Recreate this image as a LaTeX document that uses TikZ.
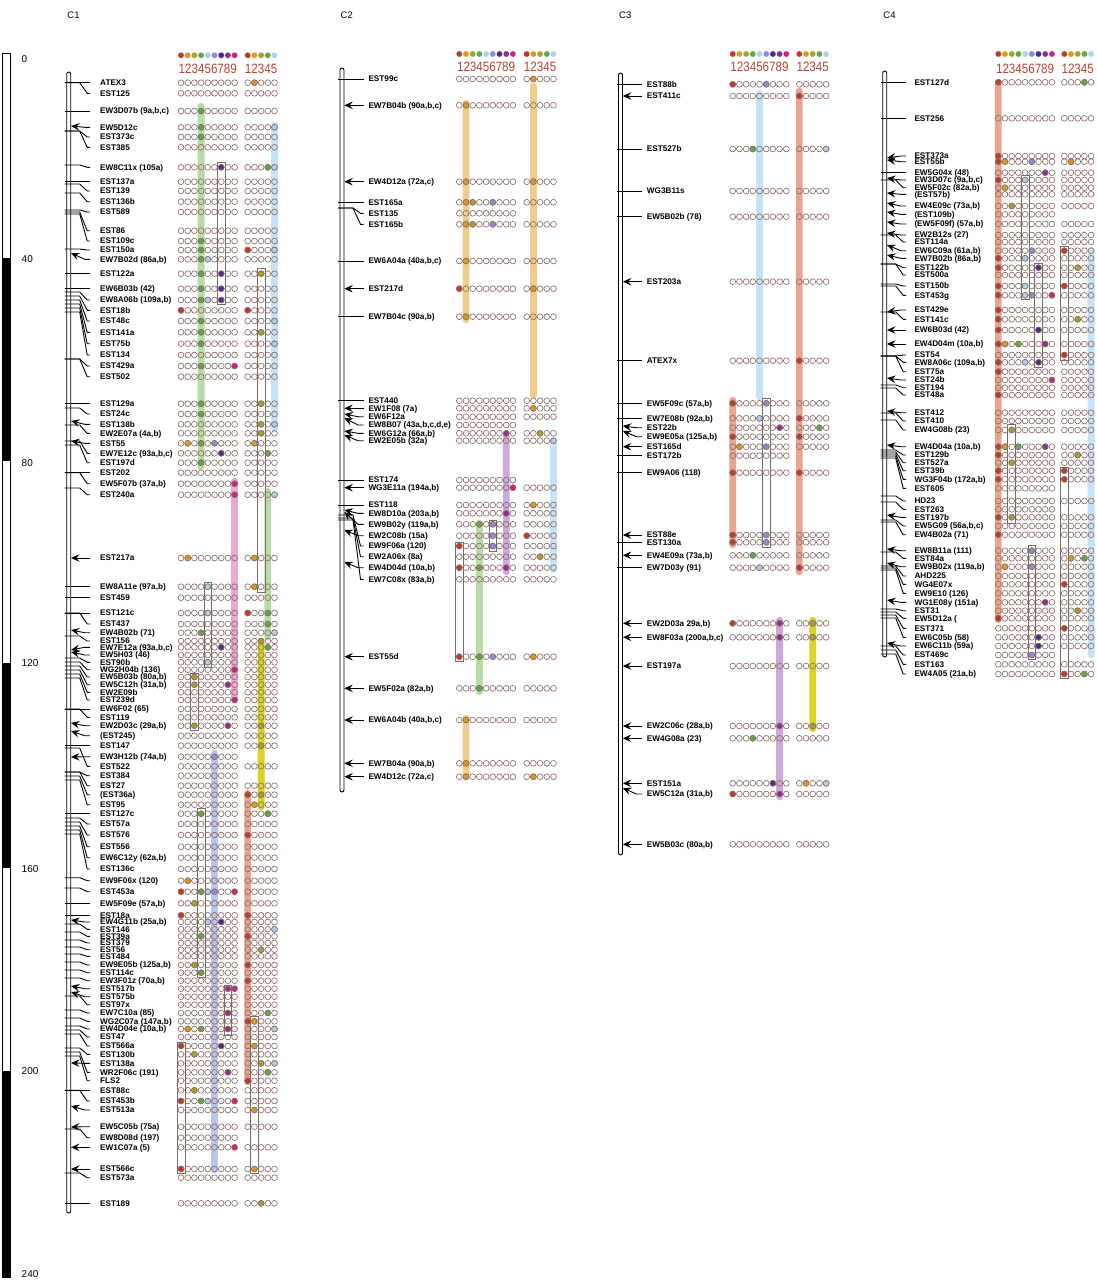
\documentclass[tikz,border=0pt]{standalone}
\usepackage{fontspec}
\setmainfont{Liberation Sans}
\newfontfamily\digfont{Liberation Sans}[FakeStretch=0.86]
\usetikzlibrary{arrows.meta}
\definecolor{ga1}{HTML}{C0392B}
\definecolor{ga2}{HTML}{D89B1E}
\definecolor{ga3}{HTML}{A6A02E}
\definecolor{ga4}{HTML}{5BAA46}
\definecolor{ga5}{HTML}{A8D2F0}
\definecolor{ga6}{HTML}{8C8CDA}
\definecolor{ga7}{HTML}{4B2C8C}
\definecolor{ga8}{HTML}{8E2E8E}
\definecolor{ga9}{HTML}{CC2280}
\colorlet{gb1}{ga1}\colorlet{gb2}{ga2}\colorlet{gb3}{ga3}\colorlet{gb4}{ga4}\colorlet{gb5}{ga5}
\definecolor{dotline}{HTML}{8C6E68}
\definecolor{digcol}{HTML}{B8452F}
\definecolor{bgreen}{HTML}{B7DCA8}
\definecolor{bblue}{HTML}{C6E2F6}
\definecolor{bsalmon}{HTML}{E8A690}
\definecolor{btan}{HTML}{EDCD8C}
\definecolor{bpink}{HTML}{E8AAD4}
\definecolor{blilac}{HTML}{CDAAD9}
\definecolor{blav}{HTML}{BCC5EC}
\definecolor{byellow}{HTML}{D8D424}
\definecolor{boxcol}{HTML}{7A6A66}
\tikzset{
  lab/.style={anchor=west,inner sep=0pt,text height=5.9pt,text depth=0pt,font=\bfseries\fontsize{8.2}{8}\selectfont},
  conn/.style={line width=0.9pt,black},
  arr/.style={-{Stealth[length=8.5pt,width=7.5pt,inset=3.2pt]}},
  edot/.style={draw=dotline,line width=0.65pt},
  boxs/.style={draw=boxcol,line width=0.65pt},
  chr/.style={draw=black,line width=0.9pt,fill=white,rounded corners=2pt},
  dig/.style={inner sep=0pt,text=digcol,font=\digfont\fontsize{13.5}{14}\selectfont},
  scl/.style={anchor=west,inner sep=0pt,font=\fontsize{10}{10}\selectfont},
  ttl/.style={anchor=west,inner sep=0pt,font=\fontsize{9.5}{10}\selectfont}
}
\newcommand\setchrom[4]{\gdef\cx{#1}\gdef\lx{#2}\gdef\gx{#3}\gdef\hx{#4}}
\newcounter{mk}
\newcommand\mrk[6]{%
  \stepcounter{mk}%
  \node[lab] (m\themk) at (\lx,#3) {#4};%
  \if#1L%
    \ifdim #2pt=#3pt
      \draw[conn] (\cx-4,#2) -- (\cx+21.5,#3);%
    \else
      \draw[conn] (\cx-4,#2) -- (\cx+11,#2) -- (\cx+18.5,#3) -- (\cx+21.5,#3);%
    \fi
  \else
    \ifdim #2pt=#3pt
      \draw[conn,arr] (\cx+21.5,#3) -- (\cx+2.3,#2);%
    \else
      \draw[conn,arr] (\cx+21.5,#3) -- (\cx+16,#3) -- (\cx+2.3,#2);%
    \fi
  \fi
  \foreach \i in {1,...,9}{\draw[edot] ({\gx+(\i-1)*6.7},#3) circle (2.9);}%
  \foreach \fc in {#5}{\ifnum\fc>0 \draw[edot,fill=ga\fc] ({\gx+(\fc-1)*6.7},#3) circle (2.9);\fi}%
  \def\tmpa{#6}\def\tmpn{n}%
  \ifx\tmpa\tmpn\else
    \foreach \i in {1,...,5}{\draw[edot] ({\hx+(\i-1)*6.7},#3) circle (2.9);}%
    \foreach \fc in {#6}{\ifnum\fc>0 \draw[edot,fill=gb\fc] ({\hx+(\fc-1)*6.7},#3) circle (2.9);\fi}%
  \fi}
\newcommand\cbar[5]{%
  \ifnum#1=1 \xdef\bx{\gx}\else\xdef\bx{\hx}\fi
  \fill[#5,rounded corners=3pt] ({\bx+(#2-1)*6.7-3.4},#3) rectangle ({\bx+(#2-1)*6.7+3.4},#4);}
\newcommand\cbox[4]{%
  \ifnum#1=1 \xdef\bx{\gx}\else\xdef\bx{\hx}\fi
  \draw[boxs] ({\bx+(#2-1)*6.7-3.9},#3) rectangle ({\bx+(#2-1)*6.7+3.9},#4);}
\newcommand\header[3]{%
  \foreach \i in {1,...,9}{\fill[ga\i] ({\gx+(\i-1)*6.7},#2) circle (2.9);}
  \foreach \i in {1,...,5}{\fill[gb\i] ({\hx+(\i-1)*6.7},#2) circle (2.9);}
  \node[dig] (#1a) at ({\gx+4*6.7},#3) {123456789};
  \node[dig] (#1b) at ({\hx+2*6.7},#3) {12345};}
\newcommand\chrom[3]{\draw[chr] (\cx-2,#2) rectangle (\cx+2,#3);\node[ttl] (#1) at (\cx-1.5,15) {#1};}
\begin{document}
\begin{tikzpicture}[x=1pt,y=-1pt]
\useasboundingbox (0,0) rectangle (1097,1280);
\fill[white] (0,0) rectangle (1097,1280);
% scale bar
\draw[line width=0.8pt] (2,53) rectangle (10,1277);
\fill (2,258) rectangle (10,461);
\fill (2,663) rectangle (10,868);
\fill (2,1071) rectangle (10,1277);
\node[scl] (s0) at (21.5,59) {0};
\node[scl] (s40) at (21.5,259) {40};
\node[scl] (s80) at (21.5,463) {80};
\node[scl] (s120) at (21.5,663) {120};
\node[scl] (s160) at (21.5,869) {160};
\node[scl] (s200) at (21.5,1071) {200};
\node[scl] (s240) at (21.5,1274) {240};
%%%%%%%%%%%%%%%% C1
\setchrom{68.7}{100}{181}{247.7}
\cbar{1}{4}{103}{470}{bgreen}
\cbar{2}{5}{122}{432}{bblue}
\cbar{2}{4}{488}{640}{bgreen}
\cbar{1}{9}{478}{702}{bpink}
\cbar{2}{3}{640}{810}{byellow}
\cbar{1}{6}{750}{1173}{blav}
\cbar{2}{1}{790}{1085}{bsalmon}
\chrom{C1}{72}{1213}
\header{hA}{55.3}{69.3}
\mrk{L}{82.7}{82.7}{ATEX3}{0}{2}
\mrk{L}{82.7}{93.3}{EST125}{0}{0}
\mrk{L}{111}{111}{EW3D07b (9a,b,c)}{4}{0}
\mrk{A}{126}{127.3}{EW5D12c}{4}{5}
\mrk{L}{131}{137}{EST373c}{4}{0}
\mrk{L}{131}{147.3}{EST385}{0}{0}
\mrk{L}{165}{167.3}{EW8C11x (105a)}{7}{4,5}
\mrk{L}{181.7}{181.7}{EST137a}{0}{0}
\mrk{L}{184}{191}{EST139}{0}{0}
\mrk{L}{193}{201.7}{EST136b}{0}{0}
\mrk{L}{210}{212}{EST589}{0}{0}
\mrk{L}{212}{230.7}{EST86}{0}{0}
\mrk{L}{214}{241}{EST109c}{4}{0}
\mrk{L}{249}{250}{EST150a}{4}{1,5}
\mrk{A}{253}{259.3}{EW7B02d (86a,b)}{4,5}{0}
\mrk{L}{273.7}{273.7}{EST122a}{4,7}{3}
\mrk{L}{288.7}{288.7}{EW6B03b (42)}{4,7}{0}
\mrk{L}{292}{300}{EW8A06b (109a,b)}{4,5,7}{0}
\mrk{L}{296}{310.3}{EST18b}{1}{1}
\mrk{L}{300}{321}{EST48c}{4}{5}
\mrk{L}{304}{332.3}{EST141a}{4}{3}
\mrk{L}{308}{343.7}{EST75b}{4}{5}
\mrk{L}{312}{355}{EST134}{0}{0}
\mrk{L}{359}{366}{EST429a}{4,9}{0}
\mrk{L}{359}{376.7}{EST502}{0}{0}
\mrk{L}{403.7}{403.7}{EST129a}{4}{3}
\mrk{L}{408}{414}{EST24c}{4}{0}
\mrk{A}{421}{424.3}{EST138b}{0}{3,5}
\mrk{L}{425}{433.3}{EW2E07a (4a,b)}{0}{3}
\mrk{A}{441}{443.3}{EST55}{2,4,6}{2}
\mrk{L}{441}{453.3}{EW7E12c (93a,b,c)}{7}{4}
\mrk{L}{445}{462.7}{EST197d}{4}{0}
\mrk{L}{472.7}{472.7}{EST202}{0}{0}
\mrk{L}{472.7}{483.7}{EW5F07b (37a,b)}{9}{0}
\mrk{L}{488}{494.7}{EST240a}{9}{5}
\mrk{A}{558}{558}{EST217a}{2}{2}
\mrk{L}{586.7}{586.7}{EW8A11e (97a,b)}{5}{2}
\mrk{L}{597.7}{597.7}{EST459}{0}{0}
\mrk{L}{613}{613}{EST121c}{5}{1,4}
\mrk{L}{613}{624}{EST437}{0}{4}
\mrk{A}{630}{632.7}{EW4B02b (71)}{4}{5}
\mrk{L}{636}{641}{EST156}{0}{3}
\mrk{A}{650}{647.3}{EW7E12a (93a,b,c)}{7}{4}
\mrk{A}{652}{655}{EW5H03 (46)}{0}{0}
\mrk{L}{658}{662.3}{EST90b}{5}{0}
\mrk{L}{662}{669.7}{WG2H04b (136)}{9}{0}
\mrk{L}{666}{677}{EW5B03b (80a,b)}{3}{0}
\mrk{L}{670}{684.7}{EW5C12h (31a,b)}{3,8}{0}
\mrk{L}{674}{692.3}{EW2E09b}{0}{0}
\mrk{L}{678}{700}{EST239d}{9}{0}
\mrk{L}{709}{709}{EW6F02 (65)}{0}{0}
\mrk{L}{709}{717.3}{EST119}{0}{0}
\mrk{A}{723}{725.7}{EW2D03c (29a,b)}{3,8}{3}
\mrk{A}{731}{735.7}{(EST245)}{0}{0}
\mrk{L}{745.7}{745.7}{EST147}{0}{3}
\mrk{A}{757}{756.7}{EW3H12b (74a,b)}{6}{n}
\mrk{L}{748}{766.3}{EST522}{0}{0}
\mrk{L}{772}{775.7}{EST384}{0}{n}
\mrk{L}{772}{785.7}{EST27}{0}{0}
\mrk{L}{776}{794.7}{(EST36a)}{0}{1,3}
\mrk{L}{780}{804.7}{EST95}{0}{2}
\mrk{L}{813.7}{813.7}{EST127c}{4}{4}
\mrk{L}{818}{824}{EST57a}{0}{0}
\mrk{L}{822}{835}{EST576}{0}{1}
\mrk{L}{826}{846.7}{EST556}{0}{0}
\mrk{L}{830}{857.7}{EW6C12y (62a,b)}{0}{0}
\mrk{L}{834}{869}{EST136c}{0}{0}
\mrk{L}{877.7}{880.7}{EW9F06x (120)}{2}{0}
\mrk{L}{888}{891.7}{EST453a}{1,4,5,6,9}{0}
\mrk{L}{903.3}{903.3}{EW5F09e (57a,b)}{3}{0}
\mrk{L}{915.3}{915.3}{EST18a}{1}{1}
\mrk{A}{920}{922}{EW4G11b (25a,b)}{5,7}{0}
\mrk{L}{924}{929.3}{EST146}{0}{5}
\mrk{L}{932}{936.3}{EST39a}{4}{1}
\mrk{L}{940}{943}{EST379}{0}{0}
\mrk{L}{947}{949.7}{EST56}{0}{3}
\mrk{L}{954}{956.3}{EST484}{0}{0}
\mrk{L}{962}{965}{EW9E05b (125a,b)}{3}{1}
\mrk{L}{970}{972.7}{EST114c}{4}{0}
\mrk{L}{978}{980.7}{EW3F01z (70a,b)}{0}{1}
\mrk{A}{986}{988.7}{EST517b}{8,9}{0}
\mrk{A}{992}{996.7}{EST575b}{0}{0}
\mrk{L}{996}{1004.7}{EST97x}{0}{0}
\mrk{L}{1010}{1013}{EW7C10a (85)}{8}{4}
\mrk{L}{1018}{1021.3}{WG2C07a (147a,b)}{0}{1,2}
\mrk{L}{1026}{1029}{EW4D04e (10a,b)}{2,4,8}{5}
\mrk{L}{1030}{1037}{EST47}{0}{0}
\mrk{L}{1034}{1046}{EST566a}{1,7}{2}
\mrk{L}{1048}{1054.3}{EST130b}{3}{0}
\mrk{A}{1063}{1063.3}{EST138a}{0}{3,5}
\mrk{L}{1052}{1072.3}{WR2F06c (191)}{8}{4}
\mrk{L}{1056}{1080.7}{FLS2}{0}{1}
\mrk{L}{1090.3}{1090.3}{EST88c}{3}{0}
\mrk{L}{1090.3}{1101}{EST453b}{1,4,5,9}{0}
\mrk{A}{1106}{1110}{EST513a}{0}{2}
\mrk{A}{1127}{1126.7}{EW5C05b (75a)}{0}{0}
\mrk{L}{1129}{1137.7}{EW8D08d (197)}{0}{n}
\mrk{A}{1147.3}{1147.3}{EW1C07a (5)}{9}{0}
\mrk{A}{1169}{1169}{EST566c}{1}{2}
\mrk{L}{1173}{1177.7}{EST573a}{0}{0}
\mrk{L}{1203.3}{1203.3}{EST189}{0}{3}
\cbox{1}{7}{162}{304}
\cbox{2}{3}{268}{592}
\cbox{1}{5}{582}{667}
\cbox{1}{3}{673}{730}
\cbox{1}{4}{808}{977}
\cbox{1}{8}{985}{1035}
\cbox{2}{2}{1016}{1173}
\cbox{1}{1}{1042}{1173}
%%%%%%%%%%%%%%%% C2
\setchrom{342}{368.3}{459.3}{526.7}
\cbar{1}{2}{100}{323}{btan}
\cbar{2}{2}{83}{398}{btan}
\cbar{1}{8}{433}{575}{blilac}
\cbar{2}{5}{440}{573}{bblue}
\cbar{1}{4}{520}{695}{bgreen}
\cbar{1}{2}{715}{780}{btan}
\chrom{C2}{68}{792}
\header{hB}{54}{66.7}
\mrk{L}{79}{79}{EST99c}{0}{2}
\mrk{A}{105.3}{105.3}{EW7B04b (90a,b,c)}{2}{0}
\mrk{A}{181.7}{181.7}{EW4D12a (72a,c)}{2}{2}
\mrk{L}{202.3}{202.3}{EST165a}{2,3,6}{0}
\mrk{L}{208}{213.3}{EST135}{0}{n}
\mrk{L}{208}{224.3}{EST165b}{2,3,6}{0}
\mrk{L}{261}{261}{EW6A04a (40a,b,c)}{2}{0}
\mrk{A}{288.7}{288.7}{EST217d}{1}{2}
\mrk{L}{316.7}{316.7}{EW7B04c (90a,b)}{2}{0}
\mrk{L}{400.7}{400.7}{EST440}{0}{0}
\mrk{A}{408.3}{408.3}{EW1F08 (7a)}{0}{2}
\mrk{A}{414}{416.7}{EW6F12a}{0}{0}
\mrk{A}{418}{425}{EW8B07 (43a,b,c,d,e)}{0}{n}
\mrk{A}{431}{433.3}{EW6G12a (66a,b)}{8}{3}
\mrk{A}{435}{440.7}{EW2E05b (32a)}{0}{5}
\mrk{L}{480}{480}{EST174}{0}{n}
\mrk{A}{487.7}{487.7}{WG3E11a (194a,b)}{9}{0}
\mrk{L}{505}{505}{EST118}{0}{2}
\mrk{A}{510}{513.3}{EW8D10a (203a,b)}{8}{0}
\mrk{A}{512}{524.3}{EW9B02y (119a,b)}{4,6}{0}
\mrk{A}{530}{535.7}{EW2C08b (15a)}{6}{1}
\mrk{L}{515}{546}{EW9F06a (120)}{1,6}{0}
\mrk{L}{518}{556.7}{EW2A06x (8a)}{0}{3}
\mrk{A}{562}{567.7}{EW4D04d (10a,b)}{1,4,8}{0}
\mrk{L}{520}{579.3}{EW7C08x (83a,b)}{0}{0}
\mrk{A}{656.7}{656.7}{EST55d}{1,4,6}{2}
\mrk{A}{688.3}{688.3}{EW5F02a (82a,b)}{4}{0}
\mrk{A}{720}{720}{EW6A04b (40a,b,c)}{2}{0}
\mrk{A}{763.3}{763.3}{EW7B04a (90a,b)}{2}{0}
\mrk{A}{776.7}{776.7}{EW4D12c (72a,c)}{2}{2}
\cbox{1}{6}{520}{551}
\cbox{1}{1}{542}{661}
%%%%%%%%%%%%%%%% C3
\setchrom{620.5}{646.7}{732.7}{799.3}
\cbar{1}{5}{90}{400}{bblue}
\cbar{2}{1}{88}{575}{bsalmon}
\cbar{1}{1}{397}{548}{bsalmon}
\cbar{1}{8}{617}{800}{blilac}
\cbar{2}{3}{617}{732}{byellow}
\chrom{C3}{73}{855}
\header{hC}{54}{67.3}
\mrk{L}{84.3}{84.3}{EST88b}{1,6}{0}
\mrk{A}{96}{96}{EST411c}{0}{1}
\mrk{L}{149}{149}{EST527b}{4}{5}
\mrk{L}{191}{191}{WG3B11s}{0}{0}
\mrk{L}{216.7}{216.7}{EW5B02b (78)}{0}{0}
\mrk{A}{281.7}{281.7}{EST203a}{0}{0}
\mrk{L}{360.7}{360.7}{ATEX7x}{0}{1}
\mrk{L}{403.3}{403.3}{EW5F09c (57a,b)}{1,6}{0}
\mrk{L}{418.3}{418.3}{EW7E08b (92a,b)}{5}{1}
\mrk{A}{426}{427.7}{EST22b}{8}{4}
\mrk{A}{431}{436.7}{EW9E05a (125a,b)}{1}{1}
\mrk{A}{446.7}{446.7}{EST165d}{2,6}{0}
\mrk{L}{455.7}{455.7}{EST172b}{0}{n}
\mrk{L}{472.7}{472.7}{EW9A06 (118)}{1}{1}
\mrk{A}{535}{535}{EST88e}{1,6}{0}
\mrk{L}{542.3}{542.3}{EST130a}{1,6}{0}
\mrk{A}{555.3}{555.3}{EW4E09a (73a,b)}{4}{0}
\mrk{L}{567.7}{567.7}{EW7D03y (91)}{5}{1}
\mrk{A}{623.3}{623.3}{EW2D03a 29a,b)}{1,8}{3}
\mrk{A}{637.3}{637.3}{EW8F03a (200a,b,c)}{8}{3}
\mrk{A}{666}{666}{EST197a}{0}{0}
\mrk{A}{726}{726}{EW2C06c (28a,b)}{8}{3}
\mrk{A}{738.3}{738.3}{EW4G08a (23)}{4}{0}
\mrk{A}{783.3}{783.3}{EST151a}{7}{2,5}
\mrk{A}{788}{794}{EW5C12a (31a,b)}{1,8}{0}
\mrk{A}{844.3}{844.3}{EW5B03c (80a,b)}{0}{0}
\cbox{1}{6}{398}{547}
%%%%%%%%%%%%%%%% C4
\setchrom{884.7}{914.3}{998.3}{1064.3}
\cbar{1}{1}{80}{623}{bsalmon}
\cbar{2}{5}{247}{658}{bblue}
\chrom{C4}{71}{657}
\header{hD}{54}{69}
\mrk{L}{82.3}{82.3}{EST127d}{1}{4}
\mrk{L}{118.3}{118.3}{EST256}{0}{0}
\mrk{A}{158}{156}{EST373a}{1}{0}
\mrk{A}{160}{161.7}{EST55b}{1,2,6}{2}
\mrk{L}{172.7}{172.7}{EW5G04x (48)}{8}{0}
\mrk{A}{178}{180}{EW3D07c (9a,b,c)}{1,5}{0}
\mrk{L}{180}{187.7}{EW5F02c (82a,b)}{2}{0}
\mrk{A}{193}{194.3}{(EST57b)}{0}{0}
\mrk{A}{203}{206}{EW4E09c (73a,b)}{3}{0}
\mrk{A}{212}{214.3}{(EST109b)}{0}{n}
\mrk{A}{222}{224}{(EW5F09f) (57a,b)}{0}{0}
\mrk{A}{233}{235}{EW2B12s (27)}{0}{0}
\mrk{L}{235}{242}{EST114a}{0}{0}
\mrk{A}{245}{250.7}{EW6C09a (61a,b)}{6}{1}
\mrk{A}{255}{258.3}{EW7B02b (86a,b)}{1,5}{0}
\mrk{L}{264}{267.7}{EST122b}{1,7}{3}
\mrk{L}{264}{275}{EST500a}{0}{0}
\mrk{L}{284}{286}{EST150b}{1,5}{1}
\mrk{L}{286}{295.3}{EST453g}{1,5,6,9}{0}
\mrk{A}{312}{310}{EST429e}{1}{0}
\mrk{L}{312}{319.3}{EST141c}{1}{3}
\mrk{A}{330}{330}{EW6B03d (42)}{1,7}{0}
\mrk{A}{344}{344}{EW4D04m (10a,b)}{1,2,4,8}{0}
\mrk{L}{356}{355}{EST54}{0}{1}
\mrk{L}{356}{362.3}{EW8A06c (109a,b)}{1,5,7}{0}
\mrk{L}{356}{371.7}{EST75a}{1}{0}
\mrk{A}{378}{380}{EST24b}{9}{0}
\mrk{L}{385}{387.7}{EST194}{0}{0}
\mrk{L}{388}{395}{EST48a}{1}{0}
\mrk{A}{411}{412.7}{EST412}{0}{0}
\mrk{L}{413}{421}{EST410}{0}{0}
\mrk{L}{420}{430}{EW4G08b (23)}{3}{0}
\mrk{A}{445}{446.7}{EW4D04a (10a,b)}{1,2,4,8}{0}
\mrk{L}{450}{455}{EST129b}{1}{3}
\mrk{L}{452}{462.7}{EST527a}{3}{0}
\mrk{L}{454}{470.7}{EST39b}{1}{1}
\mrk{L}{456}{479.3}{WG3F04b (172a,b)}{1}{1}
\mrk{L}{458}{488.3}{EST605}{0}{n}
\mrk{L}{496}{501}{HD23}{0}{0}
\mrk{L}{502}{509.3}{EST263}{0}{n}
\mrk{A}{515}{517.3}{EST197b}{1,3}{0}
\mrk{L}{520}{526}{EW5G09 (56a,b,c)}{0}{0}
\mrk{L}{522}{534.7}{EW4B02a (71)}{1}{0}
\mrk{A}{549}{550.7}{EW8B11a (111)}{6}{0}
\mrk{L}{552}{558.3}{EST84a}{0}{2,4}
\mrk{A}{563}{566.7}{EW9B02x (119a,b)}{2,6}{0}
\mrk{L}{566}{576}{AHD225}{0}{0}
\mrk{L}{568}{584.3}{WG4E07x}{0}{1}
\mrk{L}{570}{593.3}{EW9E10 (126)}{0}{0}
\mrk{A}{600}{602.3}{WG1E08y (151a)}{8}{0}
\mrk{L}{609}{610.7}{EST31}{0}{3}
\mrk{L}{612}{618.3}{EW5D12a (}{1}{0}
\mrk{L}{615}{628.3}{EST371}{0}{1}
\mrk{L}{618}{637.3}{EW6C05b (58)}{7}{0}
\mrk{A}{643}{646}{EW6C11b (59a)}{7}{0}
\mrk{L}{646}{655}{EST469c}{6}{n}
\mrk{L}{650}{664.3}{EST163}{0}{0}
\mrk{L}{654}{674}{EW4A05 (21a,b)}{0}{1,4}
\cbox{1}{5}{175}{299}
\cbox{1}{7}{263}{367}
\cbox{2}{1}{246}{360}
\cbox{1}{3}{424}{523}
\cbox{2}{1}{467}{678}
\cbox{1}{6}{545}{659}
\end{tikzpicture}
\end{document}
